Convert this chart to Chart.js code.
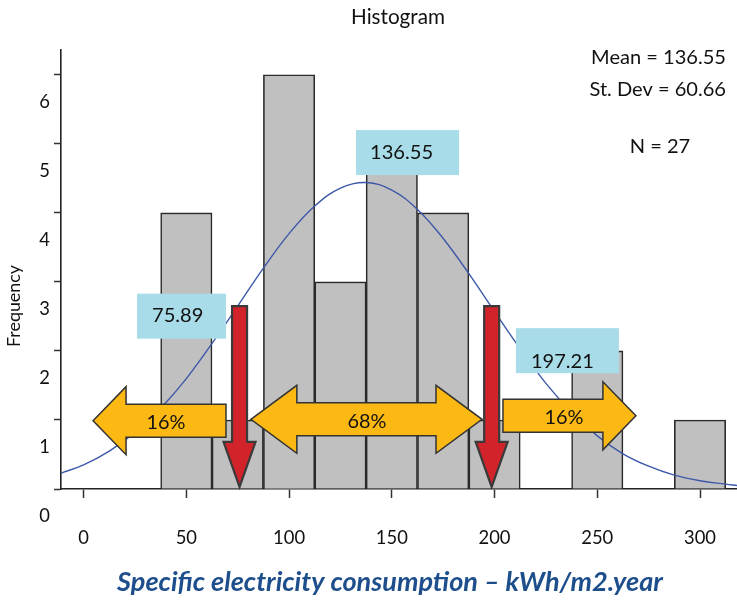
<!DOCTYPE html>
<html><head><meta charset="utf-8">
<script src="https://cdn.jsdelivr.net/npm/chart.js@4"></script>
<style>html,body{margin:0;padding:0;background:#fff}#wrap{width:737px;height:601px;position:relative}</style>
</head><body><div id="wrap"><canvas id="c"></canvas></div>
<script>
// ---- data ----
const binCenters = [50, 75, 100, 125, 150, 175, 200, 225, 250, 275, 300];
const frequencies = [4, 1, 6, 3, 5, 4, 1, 0, 2, 0, 1];
const curveX = [-11, 0, 12.5, 25, 37.5, 50, 62.5, 75, 87.5, 100, 112.5, 125, 137.5, 150, 162.5, 175, 187.5, 200, 212.5, 225, 237.5, 250, 262.5, 275, 287.5, 300, 312.5, 318];
const curveY = [0.23, 0.35, 0.55, 0.82, 1.17, 1.60, 2.11, 2.65, 3.20, 3.70, 4.10, 4.36, 4.44, 4.33, 4.05, 3.63, 3.12, 2.57, 2.03, 1.53, 1.11, 0.77, 0.51, 0.33, 0.20, 0.12, 0.07, 0.05];
const xTicks = [0, 50, 100, 150, 200, 250, 300];
const yTicks = [0, 1, 2, 3, 4, 5, 6];
const statLabels = ['Mean = 136.55', 'St. Dev = 60.66', 'N = 27'];
const boxLabels = ['136.55', '75.89', '197.21'];
const sdMarks = [75.9, 198.6];
const rangeLabels = ['16%', '68%', '16%'];

// ---- annotation placement (in data units), kept apart from the data ----
const annot = {
  boxes: [
    {x: 132.6, y: 5.20, w: 103, h: 45, tdx: 14, tdy: 22},
    {x: 26.0,  y: 2.83, w: 89,  h: 45, tdx: 15, tdy: 22},
    {x: 210.4, y: 2.33, w: 103, h: 45, tdx: 15, tdy: 33}
  ],
  redTop: 2.65, redTip: 0.03,
  ranges: [
    {from: 4.6,   to: 69.3,  y: 0.99, hl: true,  hr: false, len: 33, lx: 40.1},
    {from: 81.4,  to: 193.9, y: 1.01, hl: true,  hr: true,  len: 46, lx: 137.9},
    {from: 204.1, to: 268.8, y: 1.06, hl: false, hr: true,  len: 33, lx: 233.8}
  ]
};

const FAM = 'Lato, "Open Sans", sans-serif';
function fitSize(ctx, text, style, targetW) {
  ctx.font = style + ' 100px ' + FAM;
  return 100 * targetW / ctx.measureText(text).width;
}
const mctx = document.createElement('canvas').getContext('2d');
const tickSize = fitSize(mctx, '300', '', 32);

const overlay = {
  id: 'overlay',
  afterDatasetsDraw(chart) {
    const ctx = chart.ctx, xs = chart.scales.x, ys = chart.scales.y;
    const X = v => xs.getPixelForValue(v), Y = v => ys.getPixelForValue(v);
    ctx.save();
    // blue value boxes
    const bs = fitSize(ctx, '136.55', '', 63);
    annot.boxes.forEach((b, i) => {
      const l = X(b.x), t = Y(b.y);
      ctx.fillStyle = '#a8dce8';
      ctx.fillRect(l, t, b.w, b.h);
      ctx.fillStyle = '#111';
      ctx.font = bs + 'px ' + FAM;
      ctx.textAlign = 'left'; ctx.textBaseline = 'middle';
      ctx.fillText(boxLabels[i], l + b.tdx, t + b.tdy);
    });
    // red arrows at -1 sd / +1 sd
    sdMarks.forEach(v => {
      const cx = X(v), top = Y(annot.redTop), tip = Y(annot.redTip);
      ctx.beginPath();
      ctx.moveTo(cx - 7.5, top); ctx.lineTo(cx + 7.5, top);
      ctx.lineTo(cx + 7.5, tip - 45); ctx.lineTo(cx + 16, tip - 45);
      ctx.lineTo(cx, tip); ctx.lineTo(cx - 16, tip - 45);
      ctx.lineTo(cx - 7.5, tip - 45); ctx.closePath();
      ctx.fillStyle = '#d2232a'; ctx.fill();
      ctx.lineWidth = 2.2; ctx.strokeStyle = '#3a3a3a'; ctx.lineJoin = 'miter'; ctx.stroke();
    });
    // yellow range arrows
    const as = fitSize(ctx, '16%', '', 39);
    annot.ranges.forEach((r, i) => {
      const L = X(r.from), R = X(r.to), cy = Y(r.y), hl = r.len, hh = 34, sh = 16.5;
      ctx.beginPath();
      if (r.hl) { ctx.moveTo(L, cy); ctx.lineTo(L + hl, cy - hh); ctx.lineTo(L + hl, cy - sh); }
      else { ctx.moveTo(L, cy - sh); }
      if (r.hr) { ctx.lineTo(R - hl, cy - sh); ctx.lineTo(R - hl, cy - hh); ctx.lineTo(R, cy); ctx.lineTo(R - hl, cy + hh); ctx.lineTo(R - hl, cy + sh); }
      else { ctx.lineTo(R, cy - sh); ctx.lineTo(R, cy + sh); }
      if (r.hl) { ctx.lineTo(L + hl, cy + sh); ctx.lineTo(L + hl, cy + hh); }
      else { ctx.lineTo(L, cy + sh); }
      ctx.closePath();
      ctx.fillStyle = '#fcb813'; ctx.fill();
      ctx.lineWidth = 1.5; ctx.strokeStyle = '#333'; ctx.stroke();
      ctx.fillStyle = '#111';
      ctx.font = as + 'px ' + FAM;
      ctx.textAlign = 'center'; ctx.textBaseline = 'middle';
      ctx.fillText(rangeLabels[i], X(r.lx), cy + 2);
    });
    ctx.restore();
  },
  afterDraw(chart) {
    const ctx = chart.ctx;
    ctx.save();
    ctx.fillStyle = '#111';
    ctx.textBaseline = 'middle';
    // title
    ctx.font = fitSize(ctx, 'Histogram', '', 94) + 'px ' + FAM;
    ctx.textAlign = 'center';
    ctx.fillText('Histogram', 398, 17);
    // stats
    const ss = fitSize(ctx, statLabels[0], '', 135);
    ctx.font = ss + 'px ' + FAM;
    ctx.textAlign = 'right';
    ctx.fillText(statLabels[0], 726, 58);
    ctx.fillText(statLabels[1], 726, 90);
    ctx.textAlign = 'center';
    ctx.fillText(statLabels[2], 660, 147);
    // y title
    ctx.save();
    ctx.translate(14, 306); ctx.rotate(-Math.PI / 2);
    ctx.font = fitSize(ctx, 'Frequency', '', 82) + 'px ' + FAM;
    ctx.fillText('Frequency', 0, 0);
    ctx.restore();
    // x title
    const xt = 'Specific electricity consumption \u2013 kWh/m2.year';
    ctx.font = 'italic bold ' + fitSize(ctx, xt, 'italic bold', 546) + 'px ' + FAM;
    ctx.fillStyle = '#1e4f8c';
    ctx.textAlign = 'center';
    ctx.fillText(xt, 390, 582);
    ctx.restore();
  }
};

new Chart(document.getElementById('c'), {
  type: 'bar',
  data: {
    datasets: [
      {
        type: 'line',
        order: 0,
        data: curveX.map((x, i) => ({x: x, y: curveY[i]})),
        borderColor: '#3d58a8',
        borderWidth: 1.4,
        pointRadius: 0,
        tension: 0.4,
        fill: false
      },
      {
        type: 'bar',
        order: 1,
        data: binCenters.map((x, i) => ({x: x, y: frequencies[i]})),
        backgroundColor: '#c0c0c0',
        borderColor: '#2a2a2a',
        borderWidth: {top: 1.6, left: 1.6, right: 1.6, bottom: 0},
        borderSkipped: false,
        barPercentage: 1,
        categoryPercentage: 1
      }
    ]
  },
  options: {
    responsive: true,
    maintainAspectRatio: false,
    animation: false,
    layout: {padding: {top: 50, left: 0, right: 0, bottom: 0}},
    plugins: {legend: {display: false}, tooltip: {enabled: false}, title: {display: false}},
    scales: {
      x: {
        type: 'linear', min: -11, max: 318, offset: false,
        afterFit(s) { s.height = 112; s.paddingLeft = 0; s.paddingRight = 0; },
        afterBuildTicks(s) { s.ticks = xTicks.map(v => ({value: v})); },
        ticks: {includeBounds: false, color: '#111', padding: 29, font: {family: FAM, size: tickSize}, maxRotation: 0},
        grid: {display: true, offset: false, drawOnChartArea: false, drawTicks: true, tickLength: 9, color: '#333', tickWidth: 1.5},
        border: {display: true, color: '#222', width: 1.6}
      },
      y: {
        min: 0, max: 6.36,
        afterFit(s) { s.width = 61; s.paddingTop = 0; s.paddingBottom = 0; },
        afterBuildTicks(s) { s.ticks = yTicks.map(v => ({value: v})); },
        ticks: {includeBounds: false, color: '#111', padding: 4, labelOffset: 27, font: {family: FAM, size: tickSize}},
        grid: {display: true, drawOnChartArea: false, drawTicks: true, tickLength: 7, color: '#333', tickWidth: 1.5},
        border: {display: true, color: '#222', width: 1.6}
      }
    }
  },
  plugins: [overlay]
});
</script></body></html>
